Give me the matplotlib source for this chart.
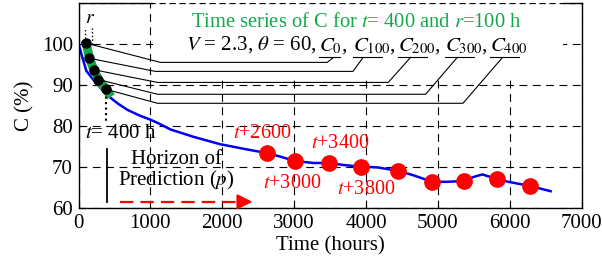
import matplotlib
matplotlib.use("Agg")
import matplotlib.pyplot as plt
from matplotlib.patches import Rectangle

plt.rcParams['font.family'] = 'Liberation Serif'
plt.rcParams['mathtext.fontset'] = 'stix'

# blue curve C(t)
time_h = [0, 50, 110, 200, 300, 420, 550, 680, 850, 1000, 1100, 1280, 1600, 1970,
          2350, 2630, 2800, 3010, 3270, 3490, 3690, 3930, 4170, 4440, 4660, 4920,
          5130, 5360, 5500, 5620, 5820, 5980, 6280, 6570]
c_pct = [100.3, 97.0, 93.5, 91.5, 89.5, 87.3, 85.5, 84.0, 82.6, 81.6, 80.8, 79.2,
         77.4, 75.6, 74.3, 73.4, 72.6, 71.5, 71.0, 71.0, 70.5, 70.1, 69.9, 69.1,
         68.0, 66.4, 66.4, 66.6, 67.6, 68.2, 67.1, 66.4, 65.4, 64.1]

# window of length t (green) and samples every r (black)
win_x = [95, 107, 153, 213, 278, 385, 453]
win_y = [101.0, 100.3, 96.6, 93.8, 91.4, 89.0, 87.2]
samp_x = [107, 153, 213, 278, 385]
samp_y = [100.3, 96.6, 93.8, 91.4, 89.0]
samp_names = ['$C_0$', '$C_{100}$', '$C_{200}$', '$C_{300}$', '$C_{400}$']

# predicted points (red)
pred_x = [2630, 3010, 3490, 3930, 4440, 4920, 5360, 5820, 6280]
pred_y = [73.4, 71.5, 71.0, 70.1, 69.1, 66.4, 66.6, 67.1, 65.4]
pred_labels = ['$t$+2600', '$t$+3000', '$t$+3400', '$t$+3800']

fig = plt.figure(figsize=(6.02, 2.59), dpi=100)
ax = fig.add_axes([0.1304, 0.197, 0.8356, 0.7895])

ax.plot(time_h, c_pct, color='#0000f5', lw=1.8, zorder=2)
ax.plot(win_x, win_y, color='#12a84a', lw=6.5, solid_capstyle='butt', zorder=3)
ax.plot(samp_x, samp_y, 'o', color='black', ms=6.5, zorder=4)
ax.plot(pred_x, pred_y, 'o', color='#ff0000', ms=11, zorder=4)

ax.set_xlim(0, 7000)
ax.set_ylim(60, 110)
ax.set_xticks(range(0, 7001, 1000))
ax.set_yticks([60, 70, 80, 90, 100])
ax.tick_params(direction='in', labelsize=15, length=4, width=0.8, pad=4)
ax.grid(True, color='black', ls=(0, (7, 5)), lw=0.8)
for s in ax.spines.values():
    s.set_linewidth(1.0)
ax.set_xlabel('Time (hours)', fontsize=15, labelpad=3)
ax.set_ylabel('C (%)', fontsize=15, labelpad=5)

# white box behind the titles, covering grid
ax.add_patch(Rectangle((1040, 92.0), 5700, 18.6, facecolor='white', edgecolor='none',
                       zorder=3.5, clip_on=False))
ax.axhline(110, color='black', ls=(0, (5, 3)), lw=0.9, zorder=3.6)

ax.text(3870, 105.4, 'Time series of C for $t$= 400 and $r$=100 h', color='#12a84a',
        fontsize=14.8, ha='center', va='center', zorder=6)
ax.text(3310, 99.9, r'$V$ = 2.3, $\theta$ = 60,', fontsize=15, ha='right',
        va='center', zorder=6)

lab_x = [3490, 4020, 4650, 5300, 5930]
lab_hw = [150, 200, 200, 200, 200]
bend_x = [1140, 1070, 1100, 1100, 1100]
hor_y = [95.6, 93.4, 90.7, 87.8, 85.6]
hor_end = [3460, 3820, 4310, 4830, 5350]
diag_end = [3550, 3960, 4620, 5270, 5900]
under_y = 96.8
for i in range(5):
    txt = samp_names[i] + (',' if i < 4 else '')
    ax.text(lab_x[i] - lab_hw[i], under_y + 0.4, txt, fontsize=15, ha='left',
            va='bottom', zorder=6)
    ax.plot([lab_x[i] - lab_hw[i], lab_x[i] + lab_hw[i]], [under_y, under_y],
            color='black', lw=0.8, zorder=6)
    ax.plot([samp_x[i], bend_x[i], hor_end[i], diag_end[i]],
            [samp_y[i], hor_y[i], hor_y[i], under_y], color='black', lw=0.8, zorder=6)

# r marker
ax.plot([97, 97], [100.6, 104.1], color='black', ls=':', lw=1.0, zorder=6)
ax.plot([194, 194], [100.0, 104.1], color='black', ls=':', lw=1.0, zorder=6)
ax.text(160, 106.3, '$r$', fontsize=14, ha='center', va='center', zorder=6)

# t marker
ax.plot([385, 385], [88.5, 80.8], color='black', ls=':', lw=1.5, zorder=6)
ax.text(95, 78.3, '$t$= 400 h', fontsize=15, ha='left', va='center', zorder=6)

# horizon of prediction
ax.plot([390, 390], [61.5, 74.4], color='black', lw=1.3, zorder=6)
ax.text(1360, 69.0, 'Horizon of\nPrediction ($p$)', fontsize=15, ha='center',
        va='center', linespacing=1.0, zorder=6)
ax.plot([580, 2290], [61.5, 61.5], color='#ff0000', lw=1.6, ls=(0, (6, 3.2)), zorder=6)
ax.annotate('', xy=(2460, 61.5), xytext=(2270, 61.5),
            arrowprops=dict(arrowstyle='-|>,head_length=0.9,head_width=0.45',
                            color='#ff0000', lw=1.6), zorder=6)

lab_pos = [(2550, 78.3), (2980, 66.0), (3640, 75.8), (4010, 64.6)]
for lab, (lx, ly) in zip(pred_labels, lab_pos):
    ax.text(lx, ly, lab, color='#ff0000', fontsize=14.5, ha='center', va='center',
            zorder=6)

fig.savefig('out.png', dpi=100)
